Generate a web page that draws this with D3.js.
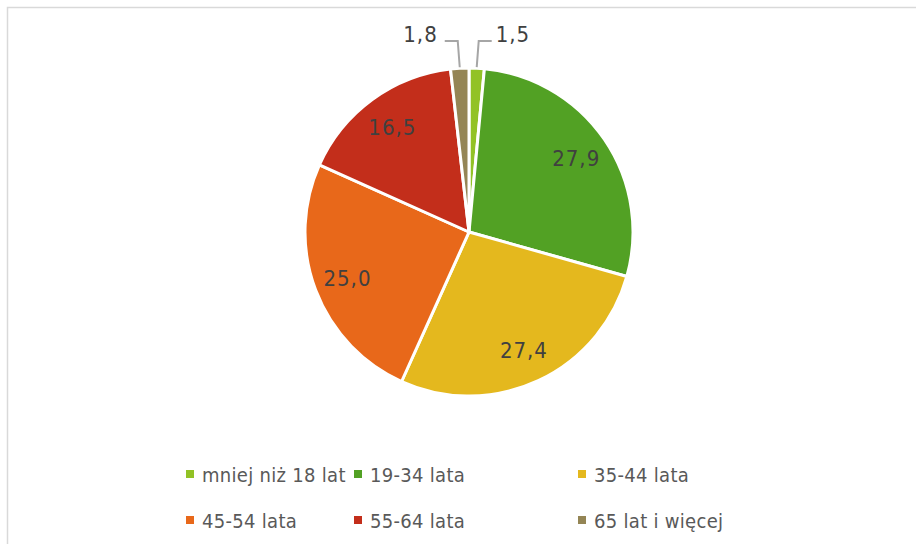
<!DOCTYPE html>
<html>
<head>
<meta charset="utf-8">
<script src="https://cdn.jsdelivr.net/npm/d3@7"></script>
<style>
  body { margin: 0; background: #fff; }
  text { font-family: "DejaVu Sans Condensed", "DejaVu Sans", sans-serif; }
</style>
</head>
<body>
<svg id="chart" width="916" height="544"></svg>
<script>
// age groups and their share (%)
var categories = ["mniej niż 18 lat", "19-34 lata", "35-44 lata", "45-54 lata", "55-64 lata", "65 lat i więcej"]
var values = [1.5, 27.9, 27.4, 25.0, 16.5, 1.8]
var labels = ["1,5", "27,9", "27,4", "25,0", "16,5", "1,8"]
var colors = ["#92c225", "#52a124", "#e4b81e", "#e8681a", "#c32e1b", "#948555"]

var svg = d3.select("#chart")

// frame
svg.append("path")
  .attr("d", "M7.5,544 V7.5 H916")
  .attr("fill", "none")
  .attr("stroke", "#d9d9d9")
  .attr("stroke-width", 1.5)

var cx = 469, cy = 232, R = 164

var pie = d3.pie().sort(null).value(function(d){ return d })
var arcs = pie(values)
var arc = d3.arc().innerRadius(0).outerRadius(R)

var g = svg.append("g").attr("transform", "translate(" + cx + "," + cy + ")")

g.selectAll("path.slice").data(arcs).enter().append("path")
  .attr("class", "slice")
  .attr("d", arc)
  .attr("fill", function(d, i){ return colors[i] })
  .attr("stroke", "#fff")
  .attr("stroke-width", 3)
  .attr("stroke-linejoin", "round")

var labelArc = d3.arc().innerRadius(130).outerRadius(130)

// big slices: labels inside
g.selectAll("text.inlbl").data(arcs.filter(function(d){ return d.value > 5 })).enter()
  .append("text")
  .attr("class", "inlbl")
  .attr("transform", function(d){ return "translate(" + labelArc.centroid(d) + ")" })
  .attr("text-anchor", "middle")
  .attr("dy", "0.36em")
  .attr("font-size", 22)
  .attr("letter-spacing", 1)
  .attr("fill", "#404040")
  .text(function(d){ return labels[d.index] })

// small slices: labels outside with leader lines
var small = arcs.filter(function(d){ return d.value <= 5 })
small.forEach(function(d){
  var mid = (d.startAngle + d.endAngle) / 2
  var px = Math.sin(mid) * R, py = -Math.cos(mid) * R
  var side = Math.sin(mid) >= 0 ? 1 : -1
  var ey = -R - 27
  var ex = px + side * 2
  var hx = ex + side * 13
  g.append("polyline")
    .attr("points", [[px, py - 1], [ex, ey], [hx, ey]].map(function(p){ return p.join(",") }).join(" "))
    .attr("fill", "none")
    .attr("stroke", "#a6a6a6")
    .attr("stroke-width", 2)
  g.append("text")
    .attr("x", hx + side * (side > 0 ? 4 : 7))
    .attr("y", ey + 1)
    .attr("text-anchor", side > 0 ? "start" : "end")
    .attr("font-size", 22)
    .attr("letter-spacing", 1)
    .attr("fill", "#404040")
    .text(labels[d.index])
})

// legend
var legX = [186, 354, 578]
var legY = [475, 521]
var leg = svg.selectAll("g.leg").data(categories).enter().append("g")
  .attr("class", "leg")
  .attr("transform", function(d, i){ return "translate(" + legX[i % 3] + "," + legY[Math.floor(i / 3)] + ")" })

leg.append("rect")
  .attr("x", 0).attr("y", -5)
  .attr("width", 8).attr("height", 8)
  .attr("fill", function(d, i){ return colors[i] })

leg.append("text")
  .attr("x", 16)
  .attr("y", 7)
  .attr("font-size", 20)
  .attr("letter-spacing", 0.3)
  .attr("fill", "#595959")
  .text(function(d){ return d })
</script>
</body>
</html>
